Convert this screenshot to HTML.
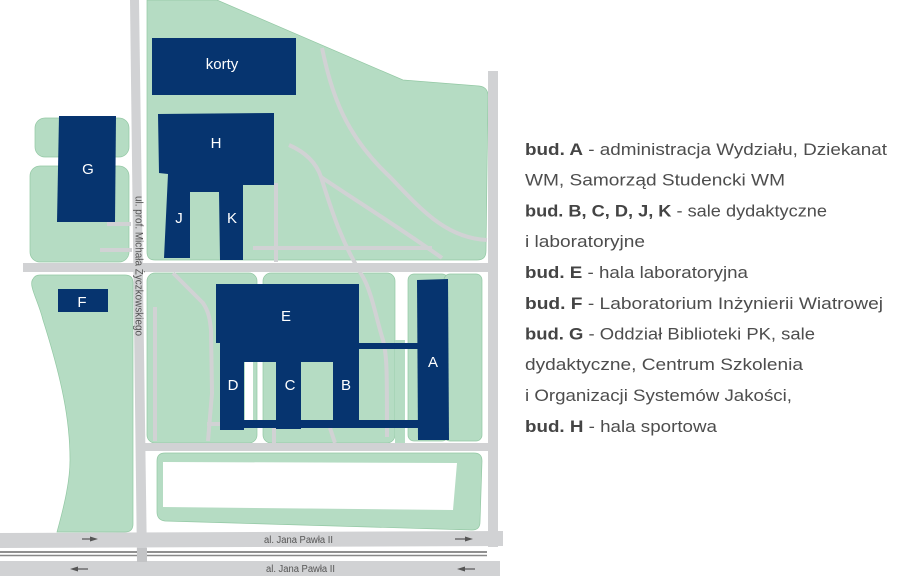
<!DOCTYPE html>
<html><head><meta charset="utf-8"><style>
html,body{margin:0;padding:0;background:#fff;}
svg{display:block;}
</style></head><body>
<svg width="916" height="581" viewBox="0 0 916 581" xmlns="http://www.w3.org/2000/svg">
<rect width="916" height="581" fill="#fff"/>
<!-- green areas -->
<g fill="#b5dcc3" stroke="#93c8a4" stroke-width="0.7">
  <path d="M147,0 L217,0 L403,80 L479,86 Q488,87 488,96 L486,251 Q486,260 477,260 L155,260 Q147,260 147,252 Z"/>
  <rect x="35" y="118" width="94" height="39" rx="10"/>
  <rect x="30" y="166" width="99" height="96" rx="10"/>
  <path d="M40,275 L125,275 Q133,275 133,283 L133,524 Q133,532 125,532 L57,532 C65,503 70,480 70,460 C70,420 62,380 43,320 C38,300 28,285 33,279 Q35,275 40,275 Z"/>
  <rect x="147" y="273" width="110" height="170" rx="8"/>
  <rect x="263" y="273" width="132" height="170" rx="8"/>
  <path d="M395,340 L405,340 L405,443 L395,443 Z" stroke="none"/>
  <rect x="408" y="274" width="40" height="167" rx="6"/>
  <rect x="444" y="274" width="38" height="167" rx="6"/>
  <path d="M165,453 L474,453 Q482,453 482,461 L480,522 Q480,530 472,530 L165,521 Q157,520 157,512 L157,461 Q157,453 165,453 Z"/>
</g>
<polygon points="163,462 457,463 453,510 163,507" fill="#fff"/>
<rect x="245" y="362" width="8" height="58" fill="#fff"/>
<!-- roads -->
<g fill="#d1d2d4">
  <polygon points="130,0 139,0 147,562 137,562"/>
  <rect x="23" y="263" width="475" height="9"/>
  <rect x="488" y="71" width="10" height="476"/>
  <rect x="143" y="443" width="355" height="8"/>
  <polygon points="0,533 503,531 503,546 0,548"/>
  <rect x="0" y="561" width="500" height="15"/>
</g>
<!-- paths -->
<g fill="none" stroke="#d1d2d4" stroke-width="4" stroke-linecap="butt">
  <line x1="107" y1="224" x2="131" y2="224"/>
  <line x1="100" y1="250" x2="132" y2="250"/>
  <line x1="276" y1="183" x2="276" y2="262"/>
  <line x1="253" y1="248" x2="432" y2="248"/>
  <path d="M322,48 C332,95 345,135 390,177 C420,208 445,238 487,240"/>
  <path d="M289,145 C305,152 316,162 321,177 C330,205 340,240 363,277 C372,293 376,318 383,340 C387,355 387,370 387,437"/>
  <path d="M321,177 C355,200 400,228 442,258"/>
  <line x1="155" y1="307" x2="155" y2="441"/>
  <path d="M173,273 L203,303 C209,312 210,320 211,330 L212,393 L208,441"/>
  <line x1="207" y1="424" x2="222" y2="424"/>
  <line x1="274" y1="428" x2="274" y2="443"/>
  <line x1="330" y1="428" x2="335" y2="443"/>
</g>
<!-- buildings -->
<g fill="#06346f">
  <rect x="152" y="38" width="144" height="57"/>
  <polygon points="158,114 274,113 274,185 243,185 243,260 220,260 219,192 190,192 190,258 164,258 168,174 159,173"/>
  <polygon points="59,116 116,116 115,222 57,222"/>
  <rect x="58" y="289" width="50" height="23"/>
  <rect x="216" y="284" width="143" height="59"/>
  <rect x="220" y="342" width="139" height="20"/>
  <rect x="220" y="361" width="24" height="69"/>
  <rect x="276" y="361" width="25" height="68"/>
  <rect x="333" y="361" width="26" height="67"/>
  <rect x="220" y="420" width="198" height="8"/>
  <rect x="358" y="343" width="60" height="6"/>
  <polygon points="417,280 448,279 449,440 418,440"/>
</g>
<!-- building labels -->
<g fill="#fff" font-family="Liberation Sans, sans-serif" font-size="15" text-anchor="middle">
  <text x="222" y="69">korty</text>
  <text x="216" y="148">H</text>
  <text x="88" y="174">G</text>
  <text x="179" y="223">J</text>
  <text x="232" y="223">K</text>
  <text x="82" y="307">F</text>
  <text x="286" y="321">E</text>
  <text x="233" y="390">D</text>
  <text x="290" y="390">C</text>
  <text x="346" y="390">B</text>
  <text x="433" y="367">A</text>
</g>
<!-- street label -->
<text transform="translate(135.5,196) rotate(90)" font-family="Liberation Sans, sans-serif" font-size="11" fill="#555" textLength="140" lengthAdjust="spacingAndGlyphs">ul. prof. Michała Życzkowskiego</text>
<!-- divider lines -->
<line x1="0" y1="552" x2="487" y2="552" stroke="#222" stroke-width="1"/>
<line x1="0" y1="555.5" x2="487" y2="555.5" stroke="#888" stroke-width="1.5"/>
<rect x="137" y="548" width="10" height="14" fill="#c3c4c6"/>
<g font-family="Liberation Sans, sans-serif" font-size="10" fill="#555">
  <text x="264" y="543" textLength="69" lengthAdjust="spacingAndGlyphs">al. Jana Pawła II</text>
  <text x="266" y="572" textLength="69" lengthAdjust="spacingAndGlyphs">al. Jana Pawła II</text>
</g>
<!-- arrows -->
<g stroke="#555" stroke-width="1.2" fill="#555">
  <line x1="82" y1="539" x2="92" y2="539"/><polygon points="90,536.5 98,539 90,541.5" stroke="none"/>
  <line x1="455" y1="539" x2="465" y2="539"/><polygon points="465,536.5 473,539 465,541.5" stroke="none"/>
  <line x1="78" y1="569" x2="88" y2="569"/><polygon points="78,566.5 70,569 78,571.5" stroke="none"/>
  <line x1="465" y1="569" x2="475" y2="569"/><polygon points="465,566.5 457,569 465,571.5" stroke="none"/>
</g>
<!-- legend -->
<g font-family="Liberation Sans, sans-serif" font-size="17" fill="#4d4d4d">
  <text x="525" y="155" textLength="362" lengthAdjust="spacingAndGlyphs"><tspan font-weight="bold" fill="#444">bud. A</tspan> - administracja Wydziału, Dziekanat</text>
  <text x="525" y="185.5" textLength="260" lengthAdjust="spacingAndGlyphs">WM, Samorząd Studencki WM</text>
  <text x="525" y="216.5" textLength="302" lengthAdjust="spacingAndGlyphs"><tspan font-weight="bold" fill="#444">bud. B, C, D, J, K</tspan> - sale dydaktyczne</text>
  <text x="525" y="247" textLength="120" lengthAdjust="spacingAndGlyphs">i laboratoryjne</text>
  <text x="525" y="278" textLength="223" lengthAdjust="spacingAndGlyphs"><tspan font-weight="bold" fill="#444">bud. E</tspan> - hala laboratoryjna</text>
  <text x="525" y="309" textLength="358" lengthAdjust="spacingAndGlyphs"><tspan font-weight="bold" fill="#444">bud. F</tspan> - Laboratorium Inżynierii Wiatrowej</text>
  <text x="525" y="339.5" textLength="290" lengthAdjust="spacingAndGlyphs"><tspan font-weight="bold" fill="#444">bud. G</tspan> - Oddział Biblioteki PK, sale</text>
  <text x="525" y="370" textLength="278" lengthAdjust="spacingAndGlyphs">dydaktyczne, Centrum Szkolenia</text>
  <text x="525" y="401" textLength="267" lengthAdjust="spacingAndGlyphs">i Organizacji Systemów Jakości,</text>
  <text x="525" y="432" textLength="192" lengthAdjust="spacingAndGlyphs"><tspan font-weight="bold" fill="#444">bud. H</tspan> - hala sportowa</text>
</g>
</svg>
</body></html>
